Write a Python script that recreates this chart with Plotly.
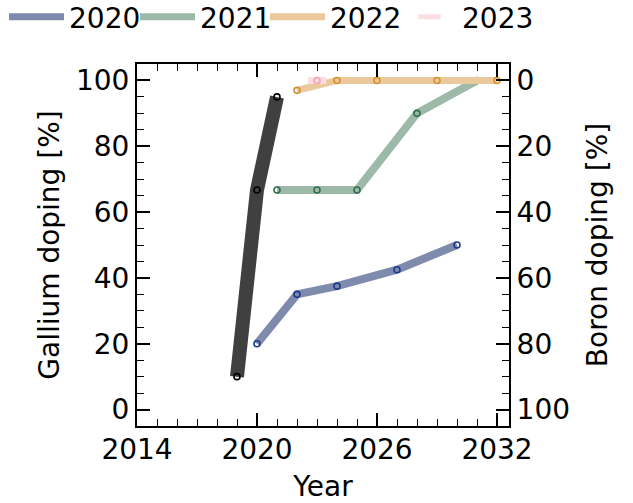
import plotly.graph_objects as go

# Data
black_x = [2019, 2020, 2021]
black_y = [10, 66.7, 95]

s2020_x = [2020, 2022, 2024, 2027, 2030]
s2020_y = [20, 35, 37.5, 42.5, 50]

s2021_x = [2021, 2023, 2025, 2028, 2031]
s2021_y = [66.7, 66.7, 66.7, 90, 100]

s2022_x = [2022, 2024, 2026, 2029, 2032]
s2022_y = [97, 100, 100, 100, 100]

s2023_x = [2023]
s2023_y = [100]

legend_names = ["2020", "2021", "2022", "2023"]
x_ticks = [2014, 2020, 2026, 2032]
y_ticks = [0, 20, 40, 60, 80, 100]

FONT = "DejaVu Sans"
FS = 28
W, H = 633, 503

fig = go.Figure()

fig.add_trace(go.Scatter(x=black_x, y=black_y, mode="lines+markers",
                         line=dict(color="#404040", width=14),
                         marker=dict(symbol="circle-open", size=6, color="black", line=dict(width=1.6)),
                         showlegend=False))

series = [
    (s2020_x, s2020_y, "#7f8bad", "#1f3b8c", 8),
    (s2021_x, s2021_y, "#9dbaa9", "#2e7050", 8),
    (s2022_x, s2022_y, "#ebc99d", "#d4912c", 7),
]
for (xs, ys, lc, mc, w), name in zip(series, legend_names[:3]):
    fig.add_trace(go.Scatter(x=xs, y=ys, mode="lines+markers",
                             line=dict(color=lc, width=w),
                             marker=dict(symbol="circle-open", size=6, color=mc, line=dict(width=1.6)),
                             showlegend=False))

fig.add_trace(go.Scatter(x=s2023_x, y=s2023_y, mode="markers",
                         marker=dict(symbol="circle-open", size=6, color="#f4a0b0", line=dict(width=1.6)),
                         error_x=dict(type="constant", value=0.45, thickness=7, width=0, color="#fcdde1"),
                         showlegend=False))

# legend entries (one legend per entry for exact placement)
leg_colors = ["#7f8bad", "#9dbaa9", "#ebc99d", "#fcdde1"]
leg_ids = ["legend", "legend2", "legend3", "legend4"]
leg_text_x = [4, 135, 265, 397]
for i, (name, c, lid) in enumerate(zip(legend_names, leg_colors, leg_ids)):
    if i < 3:
        fig.add_trace(go.Scatter(x=[None], y=[None], mode="lines", name=name, legend=lid,
                                 line=dict(color=c, width=7)))
    else:
        fig.add_trace(go.Scatter(x=[None], y=[None], mode="markers", name=name, legend=lid,
                                 marker=dict(symbol="line-ew-open", size=16, color=c,
                                             line=dict(width=7, color=c))))

# invisible trace for secondary axis
fig.add_trace(go.Scatter(x=[None], y=[None], yaxis="y2", showlegend=False))

axis_common = dict(showline=True, linecolor="black", linewidth=2, ticks="inside",
                   tickcolor="black", tickwidth=1.8, ticklen=13, showgrid=False, zeroline=False,
                   tickfont=dict(family=FONT, size=FS, color="black"))

leg_layout = {}
for lid, lx in zip(leg_ids, leg_text_x):
    leg_layout[lid] = dict(orientation="h", xref="container", yref="container",
                           x=lx / W, y=1 - 17 / H, xanchor="left", yanchor="middle",
                           itemwidth=55, font=dict(family=FONT, size=FS),
                           bgcolor="rgba(0,0,0,0)")

fig.update_layout(
    width=W, height=H,
    margin=dict(l=137, r=124, t=64, b=77, autoexpand=False),
    plot_bgcolor="white", paper_bgcolor="white",
    font=dict(family=FONT, size=FS, color="black"),
    xaxis=dict(range=[2014, 2032.6], tickvals=x_ticks, mirror="ticks", ticklabelstandoff=-3,
               minor=dict(ticks="inside", dtick=1, tick0=2014, ticklen=7, tickwidth=1.2, tickcolor="black"),
               title=dict(text="Year", font=dict(family=FONT, size=FS), standoff=16),
               **axis_common),
    yaxis=dict(range=[-5, 105], tickvals=y_ticks,
               minor=dict(ticks="inside", dtick=5, tick0=0, ticklen=7, tickwidth=1.2, tickcolor="black"),
               title=dict(text="Gallium doping [%]", font=dict(family=FONT, size=FS), standoff=8),
               **axis_common),
    yaxis2=dict(range=[105, -5], tickvals=y_ticks, overlaying="y", side="right",
                minor=dict(ticks="inside", dtick=5, tick0=0, ticklen=7, tickwidth=1.2, tickcolor="black"),
                title=dict(text="Boron doping [%]", font=dict(family=FONT, size=FS), standoff=18),
                **axis_common),
    **leg_layout,
)

fig.write_html("out.html", config={"displayModeBar": False},
               post_script="document.body.style.margin='0';")
